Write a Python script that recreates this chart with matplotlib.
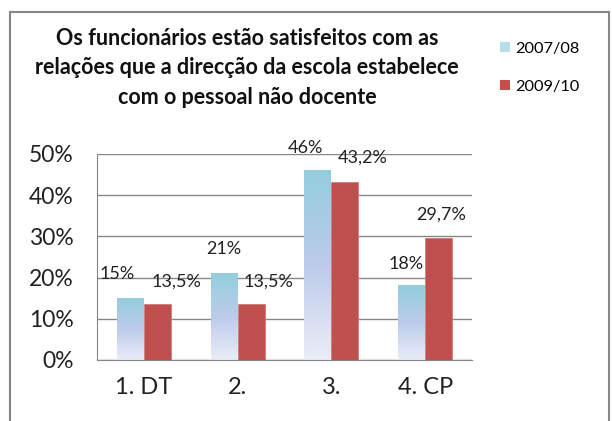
import matplotlib
matplotlib.use("Agg")
import matplotlib.pyplot as plt
import numpy as np
from matplotlib.colors import LinearSegmentedColormap
from matplotlib.patches import Rectangle, Patch

plt.rcParams['font.family'] = ['Lato', 'DejaVu Sans']

categories = ["1. DT", "2.", "3.", "4. CP"]
series_names = ["2007/08", "2009/10"]
values_0708 = [15, 21, 46, 18]
values_0910 = [13.5, 13.5, 43.2, 29.7]
yticks = [0, 10, 20, 30, 40, 50]
title = "Os funcionários estão satisfeitos com as\nrelações que a direcção da escola estabelece\ncom o pessoal não docente"

# label offsets in pixels (dx, dy from bar top center)
off_0708 = [(-13.5, 24), (0, 24), (-12.5, 22), (-5.5, 22)]
off_0910 = [(19.5, 23), (17, 23), (17.5, 24), (3, 23)]

W, H = 612, 421
fig = plt.figure(figsize=(W / 100, H / 100), dpi=100)

# outer chart border
fig.patches.append(Rectangle((10 / W, -0.1), (609 - 10) / W, 1.1 - 12 / H,
                             transform=fig.transFigure, fill=False,
                             edgecolor='#868686', linewidth=1.5))

ax = fig.add_axes([97 / W, 1 - 360 / H, (472 - 97) / W, (360 - 154) / H])
x = np.arange(len(categories))
bw = 0.288

grad = LinearSegmentedColormap.from_list('g', ['#EAEDF7', '#BCCBEA', '#93CEDD'])
cyan_bars = ax.bar(x - bw / 2, values_0708, bw, color='none', edgecolor='none')
for b in cyan_bars:
    x0, y0 = b.get_x(), b.get_y()
    w, h = b.get_width(), b.get_height()
    g = np.linspace(0, 1, 256).reshape(-1, 1)
    ax.imshow(g, cmap=grad, extent=[x0, x0 + w, y0, y0 + h], origin='lower',
              aspect='auto', zorder=2, interpolation='bicubic')
red_bars = ax.bar(x + bw / 2, values_0910, bw, color='#C0504D', edgecolor='#D07C7A',
                  linewidth=0.6, zorder=2)

def fmt(v):
    if float(v).is_integer():
        return f"{int(v)}%"
    return f"{v:.1f}%".replace('.', ',')

for bars, vals, offs in [(cyan_bars, values_0708, off_0708), (red_bars, values_0910, off_0910)]:
    for b, v, (dx, dy) in zip(bars, vals, offs):
        ax.annotate(fmt(v), (b.get_x() + b.get_width() / 2, b.get_height()),
                    xytext=(dx, dy), textcoords='offset pixels',
                    ha='center', va='center', fontsize=13, color='#222222', zorder=5)

ax.set_xlim(-0.5, len(categories) - 0.5)
ax.set_ylim(0, 50)
ax.set_yticks(yticks)
ax.set_yticklabels([f"{t}%" for t in yticks], fontsize=16.5, color='#222222')
ax.set_xticks(x)
ax.set_xticklabels(categories, fontsize=17, color='#222222')
ax.tick_params(axis='y', length=0, pad=17)
ax.tick_params(axis='x', length=0, pad=12)
ax.grid(axis='y', color='#868686', linewidth=1)
ax.set_axisbelow(True)
for s in ['top', 'right']:
    ax.spines[s].set_visible(False)
ax.spines['left'].set_color('#868686')
ax.spines['bottom'].set_color('#868686')
ax.set_autoscale_on(False)

fig.text(247 / W, 1 - 68 / H, title, ha='center', va='center', fontsize=15.5,
         fontweight='bold', linespacing=1.49, color='#111111')

handles = [Patch(facecolor='#B7DDE8', edgecolor='none'), Patch(facecolor='#C0504D', edgecolor='none')]
fig.legend(handles, series_names, loc='upper left', bbox_to_anchor=(485 / W, 1 - 27 / H),
           frameon=False, fontsize=11.8, handlelength=0.6, handleheight=0.6,
           handletextpad=0.35, labelspacing=1.45)

fig.savefig('out.png', dpi=100)
